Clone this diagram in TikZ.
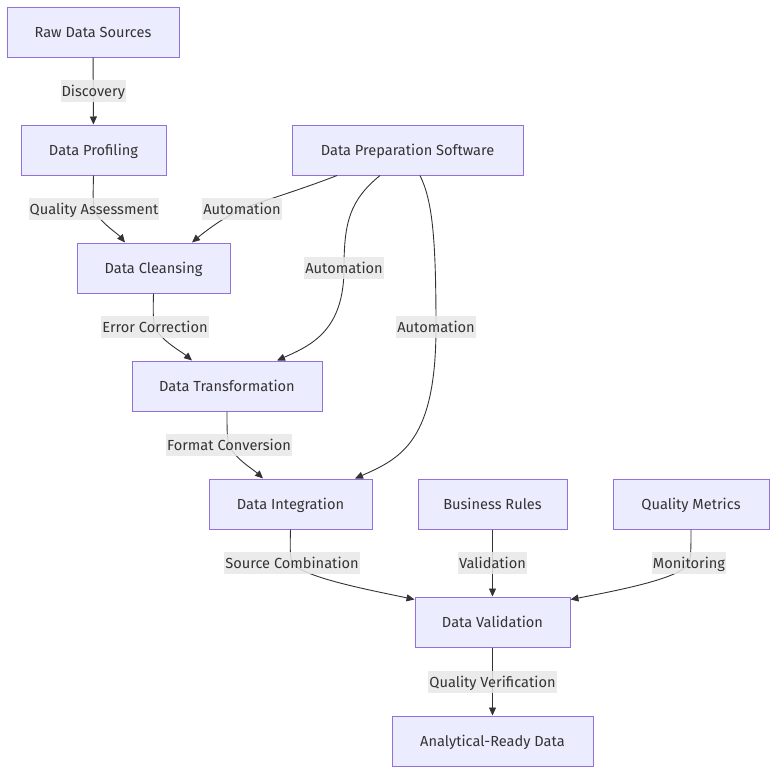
\documentclass[tikz,border=0pt]{standalone}
\usepackage{fontspec}
\setmainfont{Fira Sans}
\usepackage{tikz}
\usetikzlibrary{arrows.meta}
\definecolor{boxfill}{RGB}{236,236,255}
\definecolor{boxline}{RGB}{147,112,219}
\definecolor{lblfill}{RGB}{232,232,232}
\definecolor{ink}{RGB}{51,51,51}

\begin{document}
\begin{tikzpicture}[x=1pt,y=-1pt,>={Triangle[length=8pt,width=7pt]},
  stage/.style={draw=boxline,fill=boxfill,line width=1pt,minimum height=50pt,text=ink,text height=13pt,text depth=2pt,font=\fontsize{14.6}{16}\selectfont},
  lbl/.style={fill=lblfill,fill opacity=0.85,text opacity=1,text=ink,inner xsep=1pt,inner ysep=2pt,text height=13pt,text depth=2pt,minimum height=22pt,font=\fontsize{14.6}{16}\selectfont},
  flow/.style={->,draw=ink,line width=0.9pt}]
\useasboundingbox (0,0) rectangle (784,782);
% stages
\node[stage,minimum width=172pt] (raw) at (93,32) {Raw Data Sources};
\node[stage,minimum width=145pt] (prof) at (93.5,150) {Data Profiling};
\node[stage,minimum width=231pt] (sw) at (407.5,150) {Data Preparation Software};
\node[stage,minimum width=153pt] (clean) at (153.5,268) {Data Cleansing};
\node[stage,minimum width=190pt] (trans) at (227,386) {Data Transformation};
\node[stage,minimum width=163pt] (integ) at (290.5,504) {Data Integration};
\node[stage,minimum width=149pt] (rules) at (492.5,504) {Business Rules};
\node[stage,minimum width=156pt] (qm) at (691,504) {Quality Metrics};
\node[stage,minimum width=155pt] (valid) at (492.5,622) {Data Validation};
\node[stage,minimum width=201pt] (ready) at (492.5,741) {Analytical-Ready Data};
% main chain
\draw[flow] (raw) -- node[lbl] (l1) {Discovery} (prof);
\draw[flow] (prof.south) .. controls (93,195) and (93,202) .. (94,209) node[lbl] (l2) {Quality Assessment}
  .. controls (97,220) and (118,234) .. ([xshift=-28.5pt]clean.north);
\draw[flow] (clean.south) .. controls (153,312) and (153,320) .. (155,327) node[lbl] (l3) {Error Correction}
  .. controls (160,340) and (182,352) .. ([xshift=-35pt]trans.north);
\draw[flow] (trans.south) .. controls (227,430) and (227,438) .. (229,445) node[lbl] (l4) {Format Conversion}
  .. controls (234,458) and (254,470) .. ([xshift=-27.5pt]integ.north);
\draw[flow] (integ.south) .. controls (290,548) and (290,556) .. (292,563) node[lbl] (l5) {Source Combination}
  .. controls (305,578) and (370,590) .. ([yshift=-3pt]valid.north west);
% software links
\draw[flow] ([xshift=-70.5pt]sw.south) .. controls (300,190) and (262,201) .. (242,209) node[lbl] (l6) {Automation}
  .. controls (222,218) and (202,234) .. ([xshift=38.5pt]clean.north);
\draw[flow] ([xshift=-27.5pt]sw.south) .. controls (350,200) and (344,222) .. (344,268) node[lbl] (l7) {Automation}
  .. controls (344,330) and (312,345) .. ([xshift=50pt]trans.north);
\draw[flow] ([xshift=12.5pt]sw.south) .. controls (432,200) and (436,235) .. (436,327) node[lbl] (l8) {Automation}
  .. controls (436,440) and (402,458) .. ([xshift=64.5pt]integ.north);
% checks
\draw[flow] (rules) -- node[lbl] (l9) {Validation} (valid);
\draw[flow] (qm.south) .. controls (691,548) and (691,556) .. (689,563) node[lbl] (l10) {Monitoring}
  .. controls (682,578) and (620,590) .. ([yshift=-3pt]valid.north east);
\draw[flow] (valid) -- node[lbl] (l11) {Quality Verification} (ready);
\end{tikzpicture}
\end{document}
